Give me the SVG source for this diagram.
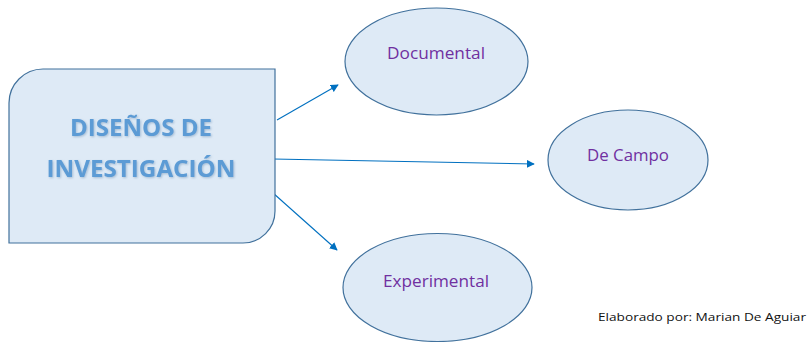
<svg xmlns="http://www.w3.org/2000/svg" width="807" height="342" viewBox="0 0 807 342">
<defs>
<style>
.node{fill:#deeaf6;stroke:#41719c;stroke-width:1.2}
.lbl{font-family:"Open Sans","Liberation Sans",sans-serif;font-size:16.5px;fill:#7030a0;text-anchor:middle}
.title{font-family:"Open Sans","Liberation Sans",sans-serif;font-weight:bold;font-size:22.5px;fill:#5b9bd5;text-anchor:middle}
.conn{stroke:#0070c0;stroke-width:1.1;fill:none;marker-end:url(#ah)}
.foot{font-family:"Open Sans","Liberation Sans",sans-serif;font-size:11.5px;fill:#111}
</style>
<marker id="ah" viewBox="0 0 10 10" refX="9" refY="5" markerWidth="8" markerHeight="8" markerUnits="userSpaceOnUse" orient="auto">
<path d="M0,0 L10,5 L0,10 z" fill="#0070c0"/>
</marker>
<filter id="glow" x="-10%" y="-30%" width="120%" height="160%">
<feGaussianBlur in="SourceAlpha" stdDeviation="1.2" result="b"/>
<feFlood flood-color="#7f9fbf" flood-opacity="0.6"/>
<feComposite in2="b" operator="in" result="s"/>
<feOffset dx="0.5" dy="1" result="o"/>
<feMerge><feMergeNode in="o"/><feMergeNode in="SourceGraphic"/></feMerge>
</filter>
</defs>
<g id="connectors">
<line class="conn" x1="277" y1="120" x2="338" y2="85"/>
<line class="conn" x1="273" y1="159" x2="534" y2="164"/>
<line class="conn" x1="273" y1="193" x2="337" y2="250"/>
</g>
<g id="main">
<path class="node" d="M43,69 H275 V211 A32,32 0 0 1 243,243 H9 V103 A34,34 0 0 1 43,69 Z"/>
<text class="title" x="141" y="136" filter="url(#glow)" textLength="142" lengthAdjust="spacingAndGlyphs">DISEÑOS DE</text>
<text class="title" x="141" y="177" filter="url(#glow)" textLength="189" lengthAdjust="spacingAndGlyphs">INVESTIGACIÓN</text>
</g>
<g id="documental">
<ellipse class="node" cx="436.5" cy="61.5" rx="91.5" ry="53.5"/>
<text class="lbl" x="436" y="59" textLength="98" lengthAdjust="spacingAndGlyphs">Documental</text>
</g>
<g id="decampo">
<ellipse class="node" cx="628" cy="160" rx="80" ry="50"/>
<text class="lbl" x="628" y="161" textLength="82" lengthAdjust="spacingAndGlyphs">De Campo</text>
</g>
<g id="experimental">
<ellipse class="node" cx="437.5" cy="287.5" rx="94.5" ry="54"/>
<text class="lbl" x="436" y="287" textLength="106" lengthAdjust="spacingAndGlyphs">Experimental</text>
</g>
<text class="foot" x="598" y="321" textLength="208" lengthAdjust="spacingAndGlyphs">Elaborado por: Marian De Aguiar</text>
</svg>
